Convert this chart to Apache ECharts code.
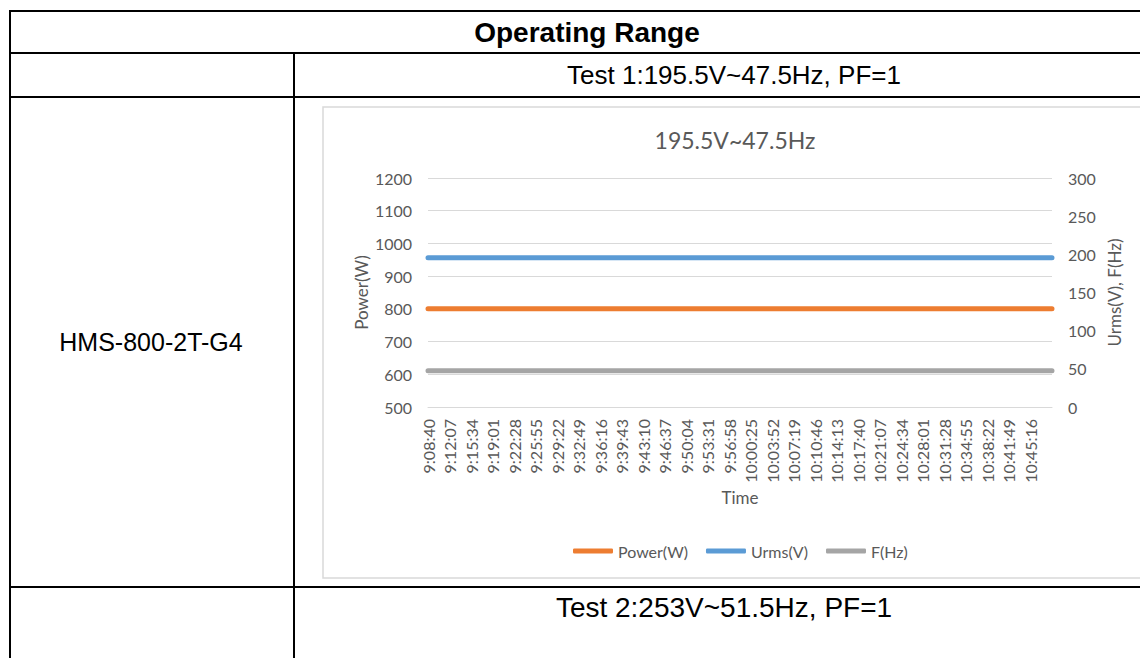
<!DOCTYPE html>
<html><head><meta charset="utf-8">
<script src="https://cdn.jsdelivr.net/npm/echarts@6/dist/echarts.min.js"></script>
<style>html,body{margin:0;padding:0;background:#fff;}#c{width:1140px;height:658px;}</style>
</head><body><div id="c"></div>
<script>
// ---- data ----
const timeLabels = ['9:08:40','9:12:07','9:15:34','9:19:01','9:22:28','9:25:55','9:29:22','9:32:49','9:36:16','9:39:43','9:43:10','9:46:37','9:50:04','9:53:31','9:56:58','10:00:25','10:03:52','10:07:19','10:10:46','10:14:13','10:17:40','10:21:07','10:24:34','10:28:01','10:31:28','10:34:55','10:38:22','10:41:49','10:45:16'];
const categories = timeLabels.concat(['']);
const powerW = [800,800,800,800,800,800,800,800,800,800,800,800,800,800,800,800,800,800,800,800,800,800,800,800,800,800,800,800,800,800];
const urmsV  = [195.5,195.5,195.5,195.5,195.5,195.5,195.5,195.5,195.5,195.5,195.5,195.5,195.5,195.5,195.5,195.5,195.5,195.5,195.5,195.5,195.5,195.5,195.5,195.5,195.5,195.5,195.5,195.5,195.5,195.5];
const freqHz = [47.5,47.5,47.5,47.5,47.5,47.5,47.5,47.5,47.5,47.5,47.5,47.5,47.5,47.5,47.5,47.5,47.5,47.5,47.5,47.5,47.5,47.5,47.5,47.5,47.5,47.5,47.5,47.5,47.5,47.5];
const seriesNames = ['Power(W)','Urms(V)','F(Hz)'];
const chartTitle = '195.5V~47.5Hz';
const tableTitle = 'Operating Range';
const test1Text = 'Test 1:195.5V~47.5Hz, PF=1';
const test2Text = 'Test 2:253V~51.5Hz, PF=1';
const modelText = 'HMS-800-2T-G4';

// ---- styles ----
const GRAY = '#595959', GRID = '#D9D9D9';
const CF = 'Lato, "Open Sans", sans-serif';
const TF = '"Liberation Sans", Arial, sans-serif';

const chart = echarts.init(document.getElementById('c'), null, {renderer: 'svg'});

function hline(y, x1, x2) { return {type:'line', shape:{x1:x1,y1:y,x2:x2,y2:y}, style:{stroke:'#000', lineWidth:2}, z:10}; }
function vline(x, y1, y2) { return {type:'line', shape:{x1:x,y1:y1,x2:x,y2:y2}, style:{stroke:'#000', lineWidth:2}, z:10}; }
function ttext(t, x, y, bold, size) { return {type:'text', x:x, y:y, style:{text:t, fill:'#000', font:(bold?'bold ':'')+size+'px '+TF, textAlign:'center', textVerticalAlign:'middle'}, z:10}; }

chart.setOption({
  animation: false,
  backgroundColor: '#fff',
  color: ['#ED7D31','#5B9BD5','#A5A5A5'],
  graphic: [
    {type:'rect', shape:{x:323, y:107, width:900, height:471}, style:{fill:'none', stroke:GRID, lineWidth:1.5}, z:1},
    hline(11, 9, 1140), hline(53, 9, 1140), hline(97, 9, 1140), hline(587, 9, 1140),
    vline(10, 10, 658), vline(294, 53, 658),
    ttext(tableTitle, 587, 32, true, 28),
    ttext(test1Text, 734, 75, false, 26),
    ttext(modelText, 151, 342, false, 25),
    ttext(test2Text, 724, 607, false, 28),
    {type:'text', x:735, y:140, style:{text:chartTitle, fill:GRAY, font:'23px '+CF, textAlign:'center', textVerticalAlign:'middle'}, z:10}
  ],
  grid: {left:428, right:88, top:178, bottom:251},
  legend: {
    data: seriesNames, left: 568, top: 538, icon: 'roundRect', itemWidth: 40, itemHeight: 5, itemGap: 18,
    textStyle: {color: GRAY, fontFamily: CF, fontSize: 16}
  },
  xAxis: {
    type: 'category', data: categories, boundaryGap: false,
    name: 'Time', nameLocation: 'middle', nameGap: 82, nameMoveOverlap: false,
    nameTextStyle: {color: GRAY, fontFamily: CF, fontSize: 17},
    axisLine: {lineStyle: {color: GRID, width: 1}}, axisTick: {show: false},
    axisLabel: {rotate: 90, interval: 0, color: GRAY, fontFamily: CF, fontSize: 16, margin: 12}
  },
  yAxis: [
    {
      type: 'value', min: 500, max: 1200, interval: 100,
      name: 'Power(W)', nameLocation: 'middle', nameGap: 58, nameRotate: 90, nameMoveOverlap: false,
      nameTextStyle: {color: GRAY, fontFamily: CF, fontSize: 17},
      axisLine: {show: false}, axisTick: {show: false},
      axisLabel: {color: GRAY, fontFamily: CF, fontSize: 16, margin: 16, formatter: function (v) { return String(v); }},
      splitLine: {lineStyle: {color: GRID, width: 1}}
    },
    {
      type: 'value', min: 0, max: 300, interval: 50, position: 'right',
      name: 'Urms(V), F(Hz)', nameLocation: 'middle', nameGap: 54, nameRotate: 90, nameMoveOverlap: false,
      nameTextStyle: {color: GRAY, fontFamily: CF, fontSize: 17},
      axisLine: {show: false}, axisTick: {show: false},
      axisLabel: {color: GRAY, fontFamily: CF, fontSize: 16, margin: 16, formatter: function (v) { return String(v); }},
      splitLine: {show: false}
    }
  ],
  series: [
    {name: seriesNames[0], type: 'line', yAxisIndex: 0, data: powerW, symbol: 'none', lineStyle: {width: 5, cap: 'round'}},
    {name: seriesNames[1], type: 'line', yAxisIndex: 1, data: urmsV, symbol: 'none', lineStyle: {width: 5, cap: 'round'}},
    {name: seriesNames[2], type: 'line', yAxisIndex: 1, data: freqHz, symbol: 'none', lineStyle: {width: 5, cap: 'round'}}
  ]
});
</script></body></html>
